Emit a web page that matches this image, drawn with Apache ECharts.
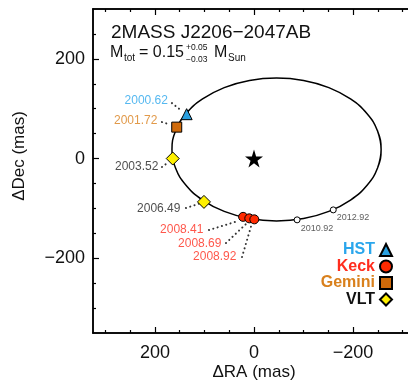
<!DOCTYPE html>
<html><head><meta charset="utf-8">
<script src="https://cdn.jsdelivr.net/npm/echarts@6/dist/echarts.min.js"></script>
<style>html,body{margin:0;padding:0;background:#fff}#c{width:408px;height:385px}</style>
</head><body><div id="c"></div>
<script>
// ---- data (mas) ----
const orbitRA  = [-256.6, -249.4, -228.3, -194.8, -151.1, -100.1, -45.5, 9.1, 60.1, 103.8, 137.3, 158.4, 165.6, 158.4, 137.3, 103.8, 60.1, 9.1, -45.5, -100.1, -151.1, -194.8, -228.3, -249.4];
const orbitDec = [18.1, -19.0, -53.6, -83.3, -106.1, -120.4, -125.3, -120.4, -106.1, -83.3, -53.6, -19.0, 18.1, 55.2, 89.8, 119.5, 142.3, 156.6, 161.5, 156.6, 142.3, 119.5, 89.8, 55.2];

const hstEpochs = ['2000.62'];            const hstRA = [136];            const hstDec = [89];
const geminiEpochs = ['2001.72'];         const geminiRA = [156];         const geminiDec = [63];
const vltEpochs = ['2003.52', '2006.49']; const vltRA = [164, 101];       const vltDec = [0, -87];
const keckEpochs = ['2008.41', '2008.69', '2008.92']; const keckRA = [22, 9.5, -0.6]; const keckDec = [-117, -120, -122];
const predEpochs = ['2010.92', '2012.92']; const predRA = [-87, -160];    const predDec = [-123, -103];
const starRA = [0]; const starDec = [0];

const xTickValues = [200, 0, -200];
const yTickValues = [200, 0, -200];
const xMinorTicks = [-300, -250, -150, -100, -50, 50, 100, 150, 250, 300];
const yMinorTicks = [-300, -250, -150, -100, -50, 50, 100, 150, 250];

// annotation: label anchors and leader lines (mas)
const labelTexts  = ['2000.62', '2001.72', '2003.52', '2006.49', '2008.41', '2008.69', '2008.92'];
const labelRA     = [173.7, 195, 193, 148.5, 102, 65.7, 35.4];
const labelDec    = [115.3, 75.2, -17, -100.3, -143.4, -170.5, -197.6];
const leadStartRA  = [165.7, 185.9, 185.9, 137.4, 90.9, 56.6, 24.2];
const leadStartDec = [111.3, 73.2, -17, -99.3, -143.4, -169.5, -197.6];
const leadEndRA    = [145.5, 169.7, 173.7, 107, 32.3, 14.1, 4];
const leadEndDec   = [95.3, 68.2, -8, -89.3, -125.4, -129.4, -129.4];
const predLabelRA  = [-127.3, -200];
const predLabelDec = [-139.4, -117.4];

// ---- styles ----
const FONT = '"Liberation Sans", Arial, Helvetica, sans-serif';
const C_HST = '#2AA6EC', C_KECK = '#FF2D1E', C_GEM = '#D9801C', C_VLT = '#111111';
const labelColors = [C_HST, C_GEM, '#222', '#222', C_KECK, C_KECK, C_KECK];

const zip = (a, b) => a.map((v, i) => [v, b[i]]);

// orbit loop (repeat neighbours so the smooth curve closes)
const n = orbitRA.length;
const orbitData = [[orbitRA[n - 1], orbitDec[n - 1]]].concat(zip(orbitRA, orbitDec), [[orbitRA[0], orbitDec[0]], [orbitRA[1], orbitDec[1]]]);

const leaderData = [];
leadStartRA.forEach((v, i) => {
  leaderData.push([v, leadStartDec[i]], [leadEndRA[i], leadEndDec[i]], '-');
});

const fmt = v => String(v).replace('-', '\u2212');

const chart = echarts.init(document.getElementById('c'), null, {renderer: 'canvas'});
const axisLine = {show: true, onZero: false, lineStyle: {color: '#000', width: 1.5}};
function xAx(pos, major, labels) {
  return {
    type: 'value', gridIndex: 0, position: pos, min: -325, max: 325, inverse: true,
    axisLine: axisLine, splitLine: {show: false},
    axisTick: {show: true, inside: true, length: major ? 6 : 3, customValues: major ? xTickValues : xMinorTicks, lineStyle: {color: '#000', width: 1.2}},
    axisLabel: labels ? {show: true, customValues: xTickValues, formatter: fmt, fontSize: 18, color: '#111', fontFamily: FONT, margin: 11} : {show: false}
  };
}
function yAx(pos, major, labels) {
  return {
    type: 'value', gridIndex: 0, position: pos, min: -350, max: 300,
    axisLine: axisLine, splitLine: {show: false},
    axisTick: {show: true, inside: true, length: major ? 6 : 3, customValues: major ? yTickValues : yMinorTicks, lineStyle: {color: '#000', width: 1.2}},
    axisLabel: labels ? {show: true, customValues: yTickValues, formatter: fmt, fontSize: 18, color: '#111', fontFamily: FONT, margin: 8} : {show: false}
  };
}

const mk = color => ({color: color, borderColor: '#000', borderWidth: 1, opacity: 1});
const starPath = 'path://M50,0 L61.2,34.5 L97.6,34.5 L68.2,55.9 L79.4,90.5 L50,69.1 L20.6,90.5 L31.8,55.9 L2.4,34.5 L38.8,34.5 Z';

chart.setOption({
  animation: false,
  backgroundColor: '#fff',
  grid: {left: 93, top: 9, width: 322, height: 324, containLabel: false, outerBoundsMode: 'none'},
  xAxis: [xAx('bottom', true, true), xAx('bottom', false, false), xAx('top', true, false), xAx('top', false, false)],
  yAxis: [yAx('left', true, true), yAx('left', false, false), yAx('right', true, false), yAx('right', false, false)],
  legend: {
    orient: 'vertical', right: 15, top: 242, align: 'right', itemGap: 0.5, itemWidth: 12, itemHeight: 12, padding: 0,
    data: [
      {name: 'HST', textStyle: {color: C_HST}},
      {name: 'Keck', textStyle: {color: C_KECK}},
      {name: 'Gemini', textStyle: {color: C_GEM}},
      {name: 'VLT', textStyle: {color: C_VLT}}
    ],
    textStyle: {fontSize: 16, fontWeight: 'bold', fontFamily: FONT},
    selectedMode: false
  },
  graphic: [
    {type: 'text', x: 111, y: 33, style: {text: '2MASS J2206\u22122047AB', font: '19px ' + FONT, fill: '#111', textVerticalAlign: 'middle'}},
    {type: 'text', x: 110, y: 53, style: {text: 'M', font: '16px ' + FONT, fill: '#111', textVerticalAlign: 'middle'}},
    {type: 'text', x: 124, y: 58.5, style: {text: 'tot', font: '10px ' + FONT, fill: '#111', textVerticalAlign: 'middle'}},
    {type: 'text', x: 139, y: 53, style: {text: '= 0.15', font: '16px ' + FONT, fill: '#111', textVerticalAlign: 'middle'}},
    {type: 'text', x: 186, y: 47.5, style: {text: '+0.05', font: '8.5px ' + FONT, fill: '#111', textVerticalAlign: 'middle'}},
    {type: 'text', x: 186, y: 59.5, style: {text: '\u22120.03', font: '8.5px ' + FONT, fill: '#111', textVerticalAlign: 'middle'}},
    {type: 'text', x: 214, y: 53, style: {text: 'M', font: '16px ' + FONT, fill: '#111', textVerticalAlign: 'middle'}},
    {type: 'text', x: 228, y: 58.5, style: {text: 'Sun', font: '10px ' + FONT, fill: '#111', textVerticalAlign: 'middle'}},
    {type: 'text', x: 254, y: 372, style: {text: '\u0394RA (mas)', font: '17px ' + FONT, fill: '#111', textAlign: 'center', textVerticalAlign: 'middle'}},
    {type: 'text', x: 19, y: 156, rotation: Math.PI / 2, style: {text: '\u0394Dec (mas)', font: '17px ' + FONT, fill: '#111', textAlign: 'center', textVerticalAlign: 'middle'}}
  ],
  series: [
    {type: 'line', name: 'orbit', data: orbitData, smooth: 0.45, symbol: 'none', lineStyle: {color: '#000', width: 1.5}, z: 2, silent: true},
    {type: 'line', name: 'leaders', data: leaderData, symbol: 'none', connectNulls: false,
      lineStyle: {color: '#333', width: 2, type: [0.1, 4.4], cap: 'round'}, z: 2, silent: true},
    {type: 'scatter', name: 'HST', data: zip(hstRA, hstDec), symbol: 'triangle', symbolSize: 11, itemStyle: mk('#2AA0E0'), z: 5},
    {type: 'scatter', name: 'Gemini', data: zip(geminiRA, geminiDec), symbol: 'rect', symbolSize: 10, itemStyle: mk('#D06A0A'), z: 5},
    {type: 'scatter', name: 'VLT', data: zip(vltRA, vltDec), symbol: 'diamond', symbolSize: 13, itemStyle: mk('#FFF000'), z: 5},
    {type: 'scatter', name: 'Keck', data: zip(keckRA, keckDec), symbol: 'circle', symbolSize: 9, itemStyle: mk('#FF2A00'), z: 5},
    {type: 'scatter', name: 'pred', data: zip(predRA, predDec), symbol: 'circle', symbolSize: 6, itemStyle: mk('#ffffff'), z: 5},
    {type: 'scatter', name: 'star', data: zip(starRA, starDec), symbol: starPath, symbolSize: 18, itemStyle: {color: '#000', opacity: 1}, z: 5},
    {type: 'scatter', name: 'dateLabels', symbolSize: 0, z: 6, silent: true,
      data: labelTexts.map((t, i) => ({value: [labelRA[i], labelDec[i]], name: t,
        label: {show: true, position: 'left', distance: 0, formatter: t, color: labelColors[i], fontSize: 12, fontFamily: FONT}}))},
    {type: 'scatter', name: 'predLabels', symbolSize: 0, z: 6, silent: true,
      data: predEpochs.map((t, i) => ({value: [predLabelRA[i], predLabelDec[i]], name: t,
        label: {show: true, position: 'inside', formatter: t, color: '#333', fontSize: 9, fontFamily: FONT}}))}
  ]
});
</script>
</body></html>
